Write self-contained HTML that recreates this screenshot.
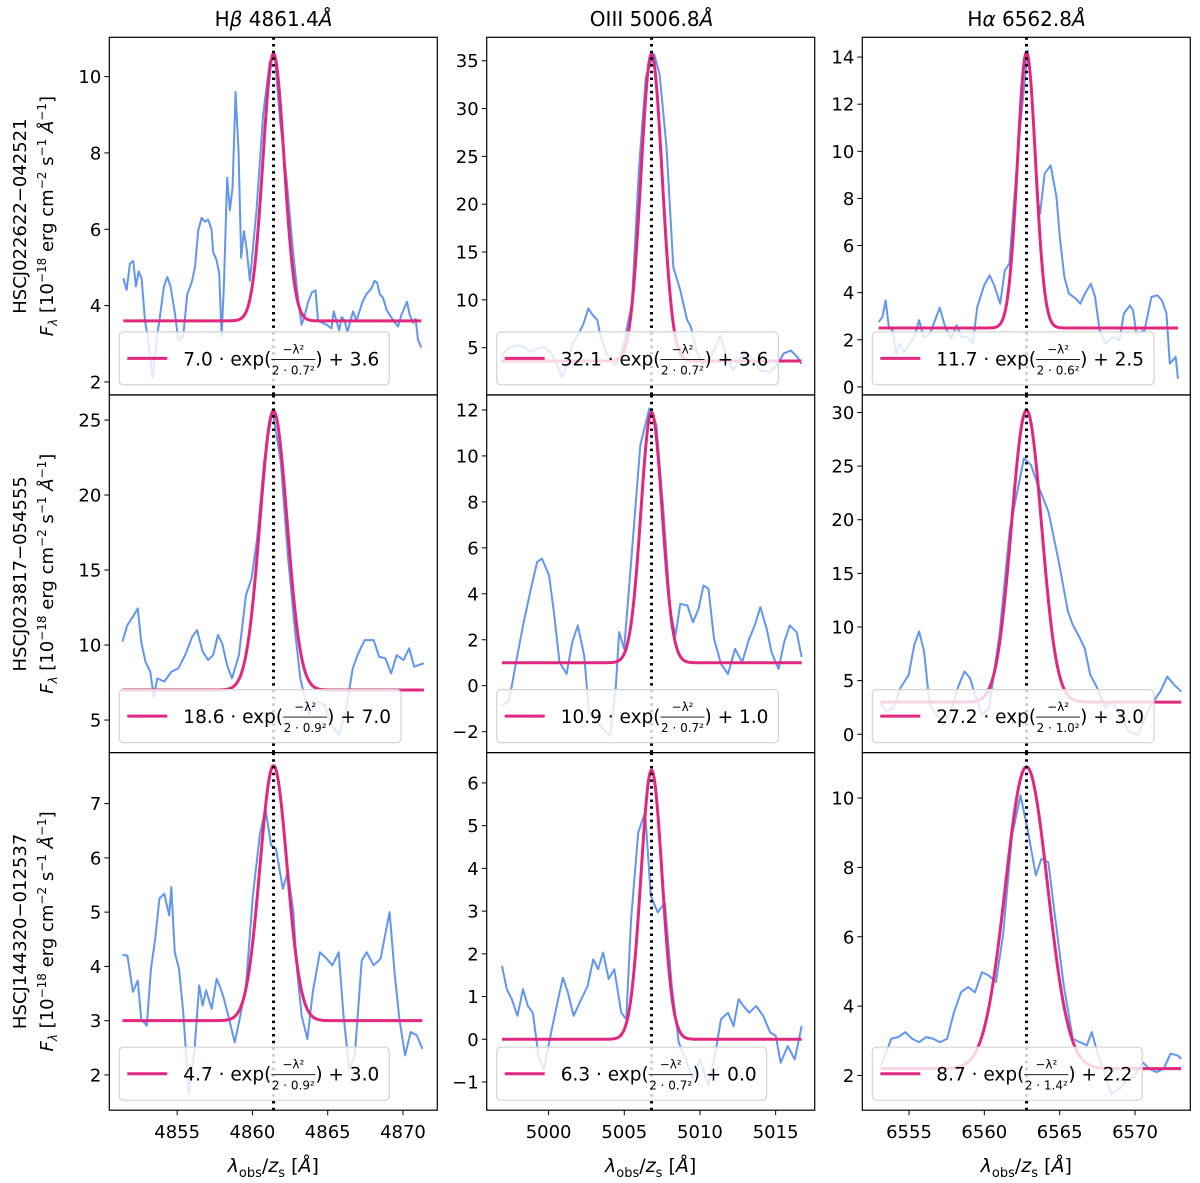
<!DOCTYPE html>
<html><head><meta charset="utf-8"><style>
html,body{margin:0;padding:0;background:#fff}
svg{display:block;font-family:"DejaVu Sans","Liberation Sans",sans-serif}
</style></head><body>
<svg id="fig" width="1200" height="1183" viewBox="0 0 1200 1183" xmlns="http://www.w3.org/2000/svg"></svg>
<script>
// ---------- DATA ----------
const lineNames = ["Hβ", "OIII", "Hα"];
const lineCenters = [4861.4, 5006.8, 6562.8];
const objectNames = ["HSCJ022622−042521", "HSCJ023817−054555", "HSCJ144320−012537"];
const fitAmp    = [7.0, 32.1, 11.7, 18.6, 10.9, 27.2, 4.7, 6.3, 8.7];
const fitSigma  = [0.7, 0.7, 0.6, 0.9, 0.7, 1.0, 0.9, 0.7, 1.4];
const fitOffset = [3.6, 3.6, 2.5, 7.0, 1.0, 3.0, 3.0, 0.0, 2.2];
const xTicks0 = [4855, 4860, 4865, 4870];
const xTicks1 = [5000, 5005, 5010, 5015];
const xTicks2 = [6555, 6560, 6565, 6570];
const yTicks_r1c1 = [2,4,6,8,10];
const yTicks_r1c2 = [5,10,15,20,25,30,35];
const yTicks_r1c3 = [0,2,4,6,8,10,12,14];
const yTicks_r2c1 = [5,10,15,20,25];
const yTicks_r2c2 = [-2,0,2,4,6,8,10,12];
const yTicks_r2c3 = [0,5,10,15,20,25,30];
const yTicks_r3c1 = [2,3,4,5,6,7];
const yTicks_r3c2 = [-1,0,1,2,3,4,5,6];
const yTicks_r3c3 = [2,4,6,8,10];

const lam_r1c1 = [4851.42,4851.64,4851.86,4852.08,4852.26,4852.44,4852.64,4852.86,4853.08,4853.37,4853.63,4853.85,4854.12,4854.34,4854.56,4854.85,4855.07,4855.4,4855.67,4855.96,4856.18,4856.4,4856.62,4856.84,4857.06,4857.28,4857.39,4857.61,4857.79,4857.95,4858.1,4858.32,4858.5,4858.68,4858.88,4859.08,4859.25,4859.43,4859.61,4859.83,4860.27,4860.71,4861.15,4861.49,4861.82,4862.26,4862.7,4863.03,4863.26,4863.48,4863.7,4863.96,4864.19,4864.36,4864.92,4865.25,4865.4,4865.58,4865.76,4865.93,4866.13,4866.31,4866.51,4866.69,4866.91,4867.31,4867.57,4867.9,4868.12,4868.28,4868.46,4868.68,4868.9,4869.12,4869.39,4869.67,4869.89,4870.27,4870.45,4870.67,4870.84,4871.0,4871.22];
const flux_r1c1 = [4.72,4.41,5.1,5.17,4.5,4.9,4.7,3.6,3.1,2.1,3.1,3.7,4.5,4.75,4.5,3.8,3.1,3.2,4.3,4.6,5.0,5.97,6.3,6.2,6.25,6.0,5.4,5.2,4.85,3.2,4.5,7.35,6.5,7.1,9.6,8.0,5.25,5.95,5.5,4.65,6.5,9.0,10.4,10.5,8.9,7.35,5.4,4.2,3.5,3.75,4.1,4.35,4.4,3.6,3.5,3.4,3.85,3.6,3.35,3.7,3.6,3.3,3.6,3.85,3.6,4.1,4.3,4.45,4.65,4.6,4.3,4.2,3.9,3.75,3.6,3.45,3.75,4.1,3.75,3.55,3.65,3.1,2.9];

const lam_r1c2 = [4996.84,4997.29,4997.9,4998.36,4998.81,4999.27,4999.73,5000.18,5000.49,5000.88,5001.25,5001.55,5002.0,5002.31,5002.62,5002.92,5003.22,5003.44,5003.83,5004.29,5004.74,5005.05,5005.5,5005.96,5006.42,5006.97,5007.33,5007.79,5008.24,5008.7,5009.15,5009.4,5009.76,5010.22,5010.68,5010.98,5011.34,5011.74,5012.2,5012.65,5013.11,5013.56,5014.02,5014.63,5015.08,5015.54,5016.0,5016.45,5016.7];
const flux_r1c2 = [4.0,4.9,5.25,5.1,4.55,4.9,5.1,4.4,3.5,1.93,3.3,5.4,6.5,7.5,9.1,8.4,7.9,6.1,4.4,3.15,4.0,6.1,9.6,23.5,33.3,35.7,33.6,26.0,13.4,11.0,7.9,7.2,4.7,3.15,4.0,4.9,6.3,4.0,2.6,3.85,4.55,3.5,2.6,2.45,3.15,4.4,4.7,4.0,3.3];

const lam_r1c3 = [6552.99,6553.24,6553.45,6553.66,6553.9,6554.15,6554.36,6554.67,6554.97,6555.36,6555.67,6555.97,6556.34,6556.64,6557.04,6557.4,6557.8,6558.16,6558.47,6558.83,6559.23,6559.53,6559.99,6560.35,6560.66,6561.05,6561.36,6561.66,6561.96,6562.42,6562.88,6563.19,6563.49,6563.7,6564.0,6564.4,6564.79,6565.01,6565.31,6565.61,6566.07,6566.37,6566.68,6567.07,6567.35,6567.65,6568.05,6568.5,6568.96,6569.26,6569.66,6569.87,6570.09,6570.63,6571.09,6571.48,6571.79,6572.09,6572.31,6572.7,6572.85];
const flux_r1c3 = [2.76,2.97,3.67,2.54,2.4,1.41,1.84,1.48,1.77,2.12,2.83,2.12,2.19,2.68,3.36,2.54,2.05,2.61,2.12,2.12,1.84,3.39,4.31,4.74,4.31,3.53,4.95,5.23,7.78,11.31,14.28,12.0,8.2,7.35,9.05,9.4,8.06,6.36,4.67,3.96,3.75,3.53,3.96,4.38,3.82,2.4,1.84,2.12,1.98,3.11,3.46,3.25,2.26,2.4,3.82,3.89,3.67,3.11,0.99,1.27,0.35];

const lam_r2c1 = [4851.36,4851.69,4852.06,4852.38,4852.61,4852.89,4853.21,4853.45,4853.68,4854.14,4854.61,4855.07,4855.53,4856.0,4856.32,4856.69,4857.06,4857.39,4857.71,4857.99,4858.31,4858.64,4859.1,4859.57,4859.94,4860.31,4860.77,4861.33,4861.88,4862.35,4862.81,4863.18,4863.74,4864.34,4864.8,4865.27,4865.73,4866.2,4866.66,4866.98,4867.45,4868.05,4868.42,4868.84,4869.21,4869.58,4870.04,4870.41,4870.74,4871.06,4871.39];
const flux_r2c1 = [10.22,11.33,11.89,12.44,10.22,8.89,8.22,6.56,7.78,7.56,8.22,8.44,9.33,10.56,11.0,9.56,9.0,9.33,10.67,10.11,8.67,7.78,9.33,13.33,14.44,17.11,22.22,25.67,22.22,16.0,11.11,7.78,5.33,6.22,6.0,4.67,4.0,5.56,8.44,9.33,10.33,10.33,9.22,9.11,8.11,9.33,9.0,9.78,8.56,8.67,8.78];

const lam_r2c2 = [4996.92,4997.39,4997.85,4998.31,4998.78,4999.24,4999.56,5000.03,5000.35,5000.72,5001.19,5001.56,5001.93,5002.35,5002.67,5003.04,5003.6,5004.06,5004.43,5004.66,5004.99,5005.45,5006.06,5006.66,5007.12,5007.59,5008.05,5008.38,5008.7,5009.17,5009.54,5009.91,5010.23,5010.56,5010.93,5011.39,5011.85,5012.32,5012.78,5013.25,5013.62,5013.99,5014.41,5014.73,5015.19,5015.56,5015.93,5016.39,5016.72];
const flux_r2c2 = [-0.87,-0.65,1.02,2.62,4.07,5.38,5.53,4.8,3.2,1.02,0.51,1.89,2.62,1.31,-1.16,-1.45,-1.89,-2.18,-0.15,2.33,1.6,5.38,10.47,12.07,11.35,7.56,3.2,2.18,3.56,3.49,2.76,3.35,4.36,4.22,2.04,0.95,0.51,1.6,1.02,2.04,2.62,3.42,2.47,1.45,0.73,1.89,2.62,2.33,1.24];

const lam_r2c3 = [6553.12,6553.49,6553.96,6554.42,6554.98,6555.35,6555.67,6556.0,6556.37,6556.83,6557.29,6557.76,6558.31,6558.68,6559.05,6559.38,6559.84,6560.31,6561.0,6561.7,6562.63,6563.09,6563.55,6564.25,6564.94,6565.55,6565.87,6566.34,6566.66,6567.03,6567.5,6568.05,6568.52,6568.98,6569.59,6570.19,6570.75,6571.21,6571.68,6572.14,6572.6,6573.07];
const flux_r2c3 = [2.89,2.12,2.43,4.29,5.54,8.33,9.58,7.71,2.74,1.81,0.87,2.12,4.6,5.85,5.23,3.67,1.81,2.43,9.27,19.21,25.74,25.12,23.25,20.77,16.1,11.44,10.2,8.96,8.02,5.54,4.29,2.43,3.05,1.81,0.25,-0.06,1.81,3.05,3.98,5.38,4.6,3.98];

const lam_r3c1 = [4851.36,4851.69,4852.06,4852.38,4852.61,4852.98,4853.26,4853.54,4853.82,4854.14,4854.47,4854.61,4854.84,4855.12,4855.4,4855.77,4856.14,4856.46,4856.69,4856.92,4857.29,4857.62,4857.85,4858.08,4858.45,4858.82,4859.15,4859.57,4860.03,4860.49,4860.86,4861.24,4861.56,4862.02,4862.35,4862.72,4862.95,4863.27,4863.65,4864.01,4864.48,4864.94,4865.31,4865.73,4866.05,4866.43,4866.8,4867.26,4867.59,4868.05,4868.51,4869.11,4869.44,4869.76,4870.14,4870.51,4870.92,4871.29];
const flux_r3c1 = [4.21,4.2,3.53,3.74,3.03,2.91,3.96,4.51,5.25,5.34,4.94,5.46,4.26,3.96,3.16,1.65,2.42,3.65,3.28,3.56,3.22,3.77,3.62,3.43,3.03,2.6,3.03,3.65,5.31,6.42,6.91,6.23,6.17,5.43,5.74,5.0,3.96,3.09,2.66,3.53,4.26,4.14,4.02,4.26,3.09,2.11,2.36,4.11,4.26,4.02,4.14,5.0,3.89,3.03,2.36,2.79,2.73,2.48];

const lam_r3c2 = [4996.92,4997.24,4997.57,4997.94,4998.31,4998.63,4998.96,4999.33,4999.7,5000.03,5000.35,5000.63,5000.95,5001.28,5001.65,5002.11,5002.58,5002.95,5003.27,5003.6,5003.97,5004.34,5004.8,5005.13,5005.45,5005.92,5006.38,5006.75,5007.21,5007.68,5008.14,5008.6,5009.07,5009.53,5010.0,5010.56,5011.02,5011.39,5011.85,5012.22,5012.55,5012.87,5013.25,5013.71,5014.17,5014.64,5015.01,5015.33,5015.8,5016.26,5016.72];
const flux_r3c2 = [1.72,1.17,0.94,0.55,1.17,0.78,0.62,-0.39,-0.7,-0.08,0.47,0.94,1.44,1.09,0.55,0.9,1.25,1.87,1.64,2.03,1.41,1.64,0.62,0.47,2.81,4.84,5.31,3.36,2.97,3.2,1.25,-0.08,-0.47,-0.94,-0.47,-1.09,-0.31,0.47,0.62,0.31,0.94,0.78,0.62,0.78,0.55,0.16,0.08,-0.55,-0.16,-0.47,0.31];

const lam_r3c3 = [6553.12,6553.49,6553.82,6554.28,6554.75,6555.21,6555.67,6556.14,6556.6,6557.06,6557.53,6557.99,6558.45,6558.92,6559.38,6559.84,6560.31,6560.77,6561.24,6561.84,6562.4,6562.86,6563.42,6563.79,6564.25,6564.71,6565.27,6565.87,6566.34,6566.8,6567.13,6567.5,6567.96,6568.43,6568.98,6569.44,6569.9,6570.51,6570.97,6571.43,6571.9,6572.36,6572.83,6573.06];
const flux_r3c3 = [2.29,2.67,3.06,3.11,3.25,3.06,2.96,3.11,3.06,2.96,3.06,3.83,4.4,4.55,4.4,4.98,4.88,4.69,6.04,8.92,10.08,9.12,7.77,8.25,8.15,6.52,4.6,3.06,2.96,2.87,3.25,2.67,2.1,1.47,1.62,1.86,1.95,2.38,2.19,2.1,2.19,2.63,2.58,2.48];

// ---------- LAYOUT ----------
const colX = [109.3, 486.7, 862.3], axW = 328;
const rowY = [37.3, 395, 752.6], axH = 357.6;
const xDom = [[4850.49, 4872.28],[4995.91, 5017.58],[6551.9, 6573.67]];
const yDom = [[1.66,11.03],[0.06,37.45],[-0.34,14.84],[2.83,26.67],[-2.91,12.65],[-1.71,31.63],[1.35,7.94],[-1.66,6.71],[1.0,11.31]];
const lams = [lam_r1c1,lam_r1c2,lam_r1c3,lam_r2c1,lam_r2c2,lam_r2c3,lam_r3c1,lam_r3c2,lam_r3c3];
const fluxes = [flux_r1c1,flux_r1c2,flux_r1c3,flux_r2c1,flux_r2c2,flux_r2c3,flux_r3c1,flux_r3c2,flux_r3c3];
const yTicksAll = [yTicks_r1c1,yTicks_r1c2,yTicks_r1c3,yTicks_r2c1,yTicks_r2c2,yTicks_r2c3,yTicks_r3c1,yTicks_r3c2,yTicks_r3c3];
const xTicksAll = [xTicks0,xTicks1,xTicks2];
const BLUE = "#6495ED", PINK = "#e0287e";
const NS = "http://www.w3.org/2000/svg";
const svg = document.getElementById("fig");
function el(tag, attrs, parent, txt){
  const e = document.createElementNS(NS, tag);
  for (const k in attrs) e.setAttribute(k, attrs[k]);
  if (txt !== undefined) e.textContent = txt;
  (parent||svg).appendChild(e);
  return e;
}
function fmt(v){ return v < 0 ? "−" + Math.abs(v) : String(v); }

for (let r = 0; r < 3; r++) {
  for (let c = 0; c < 3; c++) {
    const i = r*3 + c;
    const x0 = colX[c], y0 = rowY[r];
    const [xa, xb] = xDom[c], [ya, yb] = yDom[i];
    const sx = v => x0 + (v - xa) / (xb - xa) * axW;
    const sy = v => y0 + axH - (v - ya) / (yb - ya) * axH;
    const g = el("g", {});
    
    
    const clipId = "clip" + i;
    const cp = el("clipPath", {id: clipId}, g);
    el("rect", {x: x0, y: y0, width: axW, height: axH}, cp);
    const plot = el("g", {"clip-path": "url(#" + clipId + ")"}, g);
    const lam = lams[i], fl = fluxes[i];
    let d = "";
    for (let k = 0; k < lam.length; k++) d += (k ? "L" : "M") + sx(lam[k]).toFixed(2) + "," + sy(fl[k]).toFixed(2);
    const sp = el("path", {d: d, fill: "none", stroke: BLUE, "stroke-width": 2, "stroke-linejoin": "round"}, plot);
    
    
    const lo = lam[0], hi = lam[lam.length-1], cen = lineCenters[c];
    let gd = "";
    for (let k = 0; k <= 400; k++) {
      const l = lo + (hi - lo) * k / 400;
      const f = fitAmp[i] * Math.exp(-Math.pow(l - cen, 2) / (2 * fitSigma[i] * fitSigma[i])) + fitOffset[i];
      gd += (k ? "L" : "M") + sx(l).toFixed(2) + "," + sy(f).toFixed(2);
    }
    const gf = el("path", {d: gd, fill: "none", stroke: PINK, "stroke-width": 3, "stroke-linejoin": "round"}, plot);
    
    
    const dl = el("line", {x1: sx(cen), x2: sx(cen), y1: y0, y2: y0 + axH, stroke: "#000", "stroke-width": 3, "stroke-dasharray": "2.5,4.2"}, plot);
    
    
    const lg = el("g", {}, g);
    
    
    const lx = x0 + 10, lby = y0 + axH - 10, lh = 53, ly = lby - lh, lmid = ly + lh/2;
    const box = el("rect", {x: lx, y: ly, width: 270, height: lh, rx: 4, fill: "rgba(255,255,255,0.8)", stroke: "#d4d4d4", "stroke-width": 1.2}, lg);
    el("line", {x1: lx + 8, x2: lx + 48, y1: lmid, y2: lmid, stroke: PINK, "stroke-width": 3}, lg);
    let tx = lx + 64;
    const t1 = el("text", {x: tx, y: lmid + 7, "font-size": 18.5, fill: "#000"}, lg, fitAmp[i].toFixed(1) + " · exp(");
    tx += t1.getComputedTextLength();
    const num = el("text", {x: 0, y: lmid - 5, "font-size": 12, "text-anchor": "middle"}, lg, "−λ²");
    const den = el("text", {x: 0, y: lmid + 16, "font-size": 12, "text-anchor": "middle"}, lg, "2 · " + fitSigma[i].toFixed(1) + "²");
    const fw = Math.max(num.getComputedTextLength(), den.getComputedTextLength()) + 1;
    num.setAttribute("x", tx + fw/2); den.setAttribute("x", tx + fw/2);
    el("line", {x1: tx, x2: tx + fw, y1: lmid + 1, y2: lmid + 1, stroke: "#000", "stroke-width": 0.9}, lg);
    tx += fw;
    const t2 = el("text", {x: tx, y: lmid + 7, "font-size": 18.5}, lg, ") + " + fitOffset[i].toFixed(1));
    tx += t2.getComputedTextLength();
    box.setAttribute("width", tx - lx + 10);
    el("rect", {x: x0, y: y0, width: axW, height: axH, fill: "none", stroke: "#000", "stroke-width": 1.2}, g);
    for (const t of yTicksAll[i]) {
      const yy = sy(t);
      el("line", {x1: x0 - 5, x2: x0, y1: yy, y2: yy, stroke: "#000", "stroke-width": 1}, g);
      const tl = el("text", {x: x0 - 8, y: yy + 6.5, "font-size": 18, "text-anchor": "end"}, g, fmt(t));
      
      
    }
    if (r === 2) {
      for (const t of xTicksAll[c]) {
        const xx = sx(t);
        el("line", {x1: xx, x2: xx, y1: y0 + axH, y2: y0 + axH + 5, stroke: "#000", "stroke-width": 1}, g);
        const tl = el("text", {x: xx, y: y0 + axH + 28, "font-size": 18, "text-anchor": "middle"}, g, String(t));
        
        
      }
      const xl = el("text", {x: x0 + axW/2, y: 1172, "font-size": 19, "text-anchor": "middle"}, g);
      
      
      el("tspan", {"font-style": "italic"}, xl, "λ");
      el("tspan", {"font-size": 13, dy: 5}, xl, "obs");
      el("tspan", {dy: -5}, xl, "/");
      el("tspan", {"font-style": "italic"}, xl, "z");
      el("tspan", {"font-size": 13, dy: 5}, xl, "s");
      el("tspan", {dy: -5}, xl, " [");
      el("tspan", {"font-style": "italic"}, xl, "Å");
      el("tspan", {}, xl, "]");
    }
    if (r === 0) {
      const tt = el("text", {x: sx(cen), y: 26, "font-size": 20, "text-anchor": "middle"}, g);
      
      
      if (c === 1) { el("tspan", {}, tt, "OIII " + lineCenters[c].toFixed(1)); }
      else {
        el("tspan", {}, tt, "H");
        el("tspan", {"font-style": "italic"}, tt, c === 0 ? "β" : "α");
        el("tspan", {}, tt, " " + lineCenters[c].toFixed(1));
      }
      el("tspan", {"font-style": "italic"}, tt, "Å");
    }
  }
  const cy = rowY[r] + axH/2;
  const on = el("text", {x: 0, y: 0, "font-size": 18, "text-anchor": "middle", transform: "translate(26," + cy + ") rotate(-90)"}, svg, objectNames[r]);
  
  
  const yl = el("text", {x: 0, y: 0, "font-size": 18, "text-anchor": "middle", transform: "translate(53," + cy + ") rotate(-90)"});
  
  
  el("tspan", {"font-style": "italic"}, yl, "F");
  el("tspan", {"font-size": 12, dy: 4, "font-style": "italic"}, yl, "λ");
  el("tspan", {dy: -4}, yl, " [10");
  el("tspan", {"font-size": 12, dy: -7}, yl, "−18");
  el("tspan", {dy: 7}, yl, " erg cm");
  el("tspan", {"font-size": 12, dy: -7}, yl, "−2");
  el("tspan", {dy: 7}, yl, " s");
  el("tspan", {"font-size": 12, dy: -7}, yl, "−1");
  el("tspan", {dy: 7, "font-style": "italic"}, yl, " Å");
  el("tspan", {"font-size": 12, dy: -7}, yl, "−1");
  el("tspan", {dy: 7}, yl, "]");
}
</script>
</body></html>
